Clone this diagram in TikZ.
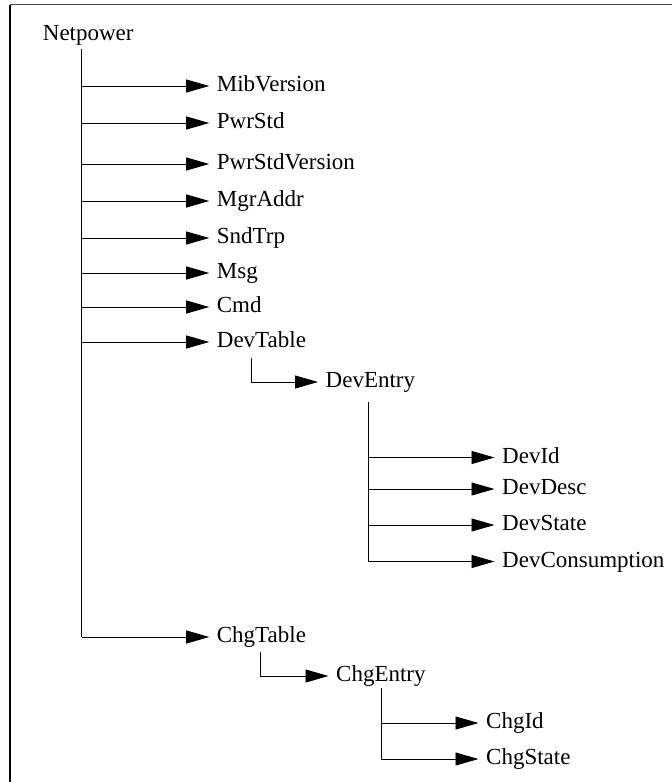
\documentclass[tikz,border=0pt]{standalone}
\usepackage{fontspec}
\setmainfont{Liberation Serif}
\usetikzlibrary{arrows.meta}
\begin{document}
\begin{tikzpicture}[x=1pt,y=-1pt,
  leaf/.style={anchor=west, inner sep=0pt, text height=16pt, text depth=5pt,
               font=\fontsize{23}{27}\selectfont},
  stem/.style={draw=black, line width=0.9pt},
  branch/.style={stem, -{Triangle[length=23pt,width=13pt]}, shorten >=7.5pt},
]
\useasboundingbox (0,0) rectangle (672,782);
% frame edges
\draw[line width=1.5pt, draw=black!70] (10,4.5) -- (672,4.5);
\draw[line width=1.3pt] (10,4.5) -- (10,782);

% root
\node[leaf] (netpower) at (42.7,34.5) {Netpower};
\coordinate (trunk) at (81.5,49);

% first level
\node[leaf] (mibversion)    at (216.7,86)  {MibVersion};
\node[leaf] (pwrstd)        at (216.7,123) {PwrStd};
\node[leaf] (pwrstdversion) at (216.7,164) {PwrStdVersion};
\node[leaf] (mgraddr)       at (216.7,201) {MgrAddr};
\node[leaf] (sndtrp)        at (216.7,238) {SndTrp};
\node[leaf] (msg)           at (216.7,273) {Msg};
\node[leaf] (cmd)           at (216.7,307) {Cmd};
\node[leaf] (devtable)      at (216.7,342) {DevTable};
\node[leaf] (chgtable)      at (216.7,637) {ChgTable};

\draw[stem] (trunk) -- (chgtable.west -| trunk);
\foreach \n in {mibversion,pwrstd,pwrstdversion,mgraddr,sndtrp,msg,cmd,devtable,chgtable}
  \draw[branch] (\n.west -| trunk) -- (\n.west);

% device table
\node[leaf] (deventry) at (325.5,382) {DevEntry};
\coordinate (dtstem) at (251,358);
\draw[branch] (dtstem) |- (deventry.west);

\node[leaf] (devid)          at (502,457.5) {DevId};
\node[leaf] (devdesc)        at (502,489)   {DevDesc};
\node[leaf] (devstate)       at (502,525)   {DevState};
\node[leaf] (devconsumption) at (502,561.5) {DevConsumption};
\coordinate (destem) at (368.5,402);
\draw[stem] (destem) -- (devconsumption.west -| destem);
\foreach \n in {devid,devdesc,devstate,devconsumption}
  \draw[branch] (\n.west -| destem) -- (\n.west);

% charge table
\node[leaf] (chgentry) at (336,676) {ChgEntry};
\coordinate (ctstem) at (260,652);
\draw[branch] (ctstem) |- (chgentry.west);

\node[leaf] (chgid)    at (486,723) {ChgId};
\node[leaf] (chgstate) at (486,759) {ChgState};
\coordinate (cestem) at (381,688);
\draw[stem] (cestem) -- (chgstate.west -| cestem);
\foreach \n in {chgid,chgstate}
  \draw[branch] (\n.west -| cestem) -- (\n.west);
\end{tikzpicture}
\end{document}
